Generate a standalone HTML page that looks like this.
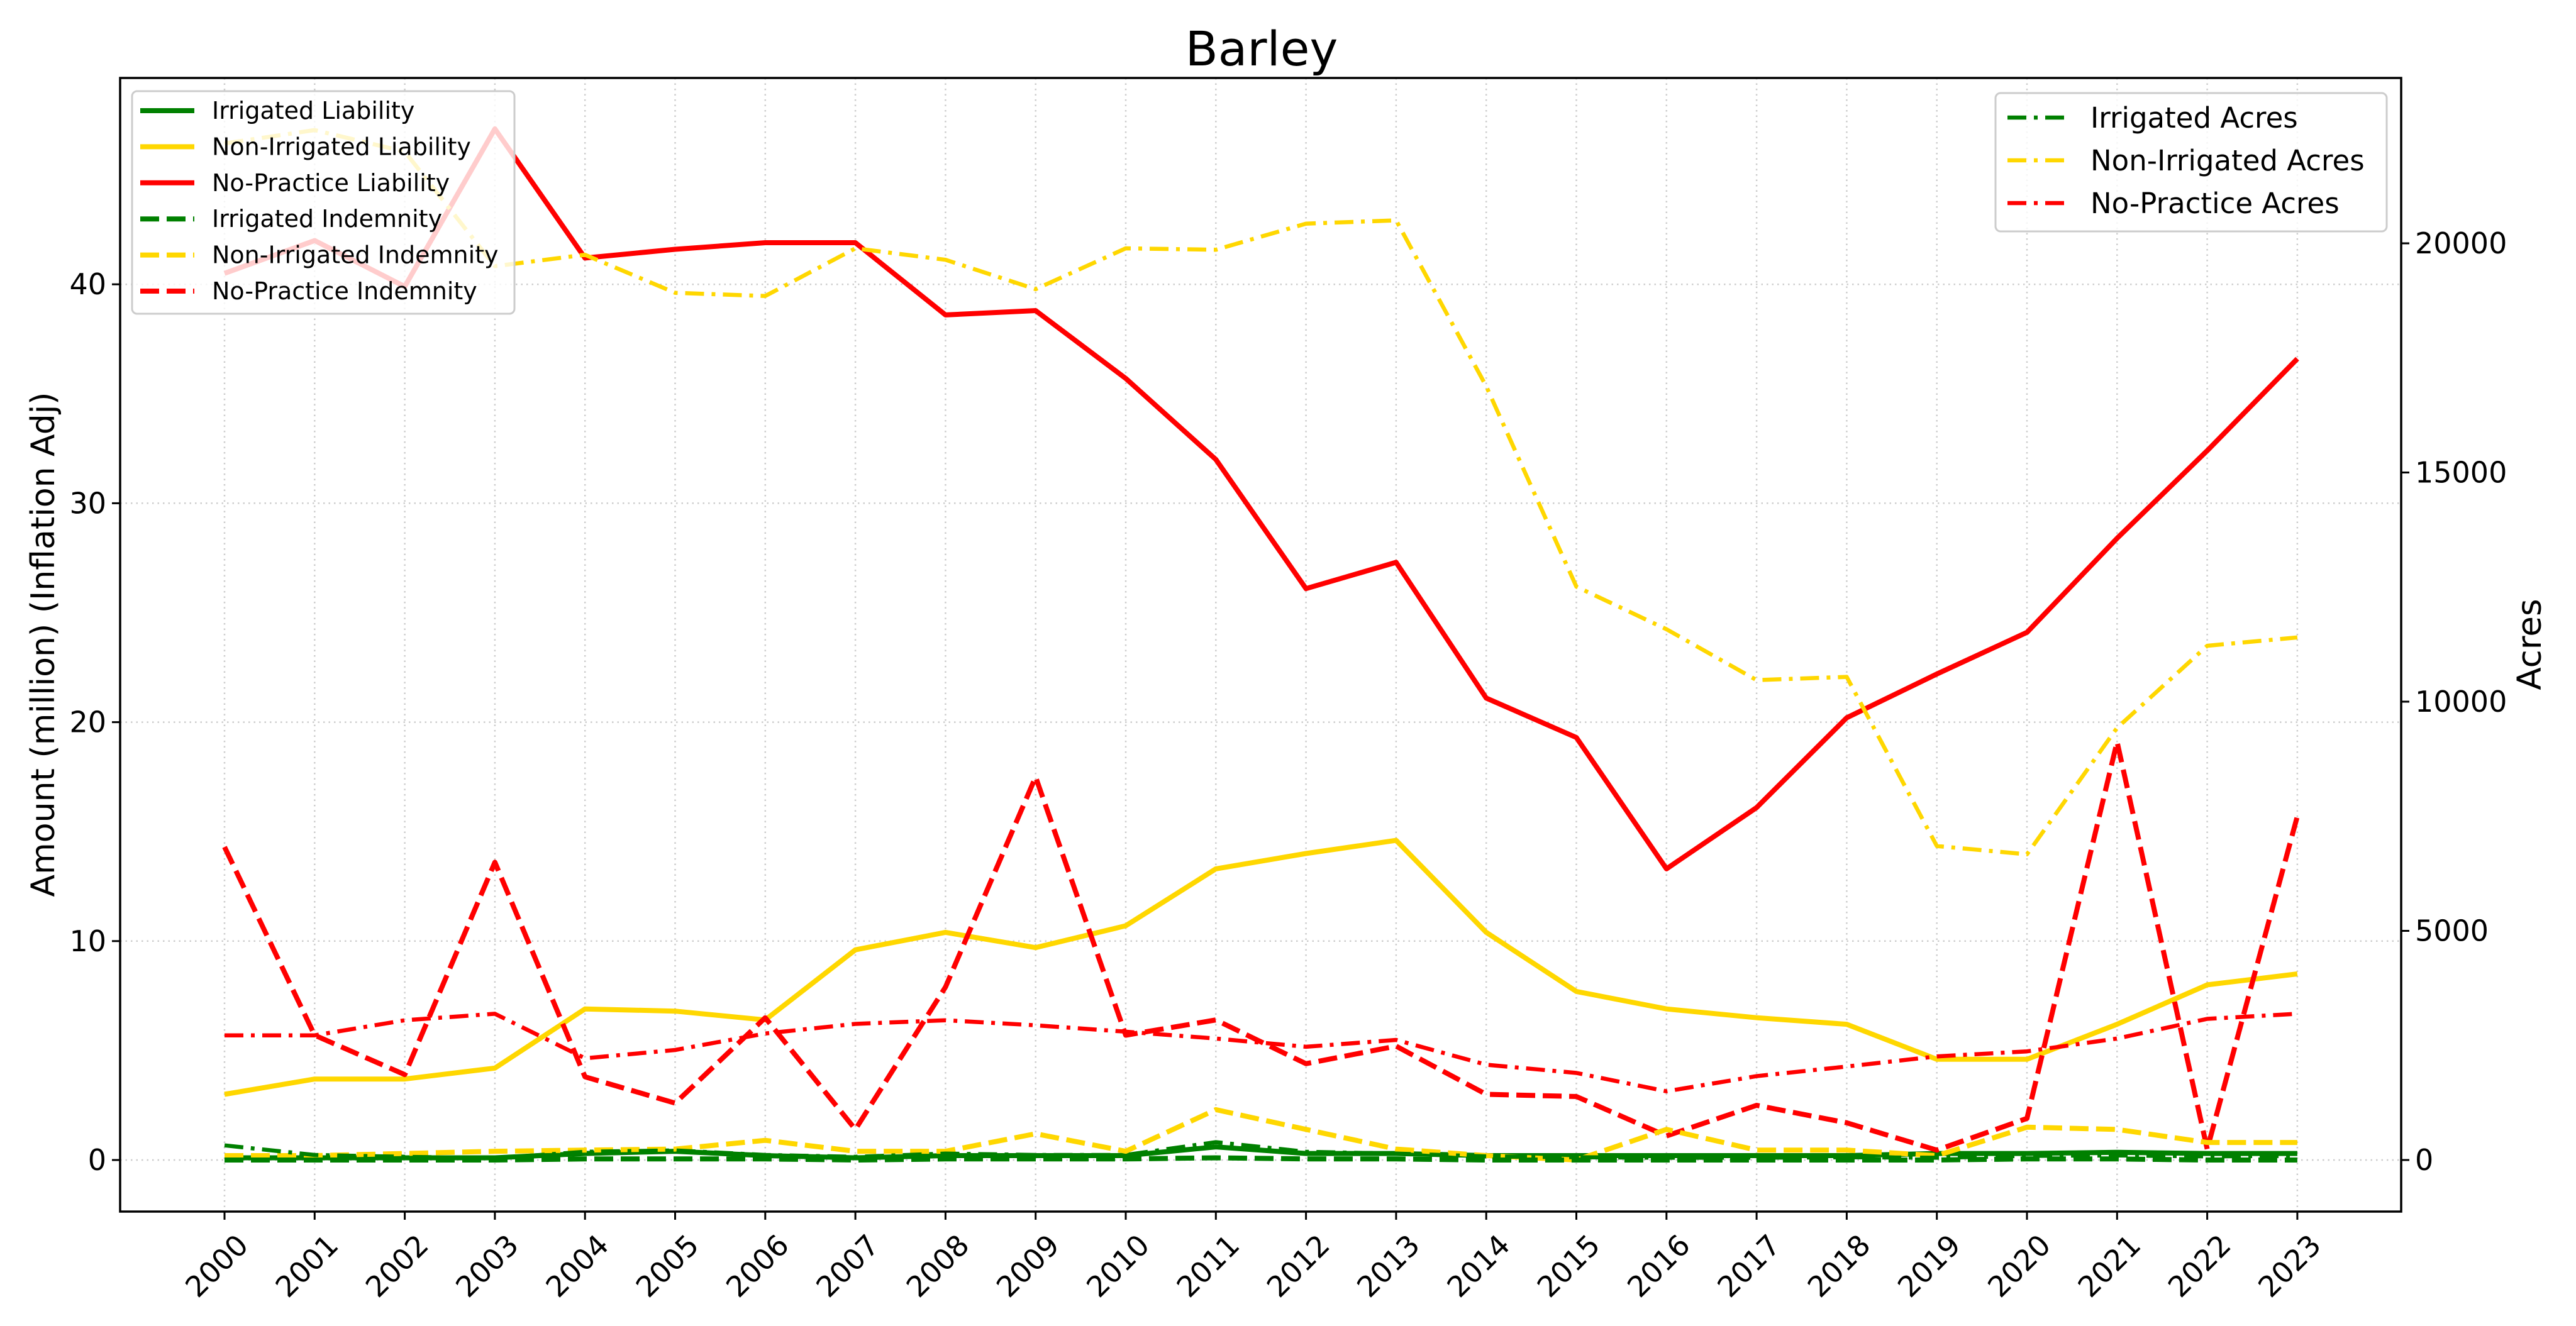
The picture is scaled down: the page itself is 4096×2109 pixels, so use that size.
<!DOCTYPE html>
<html><head><meta charset="utf-8"><style>
html,body{margin:0;padding:0;background:#fff;}
svg{display:block;font-family:"DejaVu Sans","Liberation Sans",sans-serif;}
</style></head><body>
<svg id="chart" width="4096" height="2109" viewBox="0 0 4096 2109" xmlns="http://www.w3.org/2000/svg">
<rect width="4096" height="2109" fill="#fff"/>
<text x="2006" y="104" font-size="76" text-anchor="middle">Barley</text>
<g id="grid"></g>
<g id="series"></g>
<rect x="191" y="124" width="3627" height="1803" fill="none" stroke="#000" stroke-width="3.5"/>
<g id="axes"></g>
<text transform="translate(86,1025) rotate(-90)" font-size="52" text-anchor="middle">Amount (million) (Inflation Adj)</text>
<text transform="translate(4040,1025) rotate(-90)" font-size="53" text-anchor="middle">Acres</text>
<g id="legends"></g>
</svg>
<script>
const years = [2000,2001,2002,2003,2004,2005,2006,2007,2008,2009,2010,2011,2012,2013,2014,2015,2016,2017,2018,2019,2020,2021,2022,2023];
const irrLiab = [0.1,0.1,0.1,0.1,0.3,0.4,0.2,0.1,0.2,0.2,0.2,0.6,0.3,0.3,0.2,0.2,0.2,0.2,0.2,0.3,0.3,0.35,0.3,0.3];
const nonIrrLiab = [3.0,3.7,3.7,4.2,6.9,6.8,6.4,9.6,10.4,9.7,10.7,13.3,14.0,14.6,10.4,7.7,6.9,6.5,6.2,4.6,4.6,6.2,8.0,8.5];
const noPracLiab = [40.5,42.0,39.9,47.1,41.2,41.6,41.9,41.9,38.6,38.8,35.7,32.0,26.1,27.3,21.1,19.3,13.3,16.1,20.2,22.2,24.1,28.4,32.4,36.6];
const irrIndem = [0.0,0.0,0.0,0.0,0.05,0.05,0.05,0.0,0.05,0.05,0.05,0.1,0.05,0.05,0.0,0.0,0.0,0.0,0.0,0.0,0.05,0.05,0.0,0.0];
const nonIrrIndem = [0.2,0.2,0.3,0.4,0.45,0.5,0.9,0.4,0.4,1.2,0.4,2.3,1.4,0.5,0.2,0.0,1.4,0.45,0.45,0.2,1.5,1.4,0.8,0.8];
const noPracIndem = [14.3,5.7,3.9,13.6,3.8,2.6,6.5,1.4,7.9,17.5,5.7,6.4,4.4,5.2,3.0,2.9,1.1,2.5,1.7,0.45,1.9,19.1,0.5,15.7];
const irrAcres = [320,110,70,40,180,210,110,70,140,110,110,390,180,140,80,60,50,50,60,50,90,100,80,90];
const nonIrrAcres = [22180,22470,22000,19500,19750,18920,18850,19890,19640,19000,19890,19860,20430,20500,16880,12510,11580,10470,10540,6850,6670,9430,11220,11400];
const noPracAcres = [2720,2720,3050,3190,2220,2400,2760,2970,3050,2940,2800,2650,2470,2620,2080,1900,1500,1830,2040,2260,2370,2650,3080,3190];
const leftTicks = [0,10,20,30,40];
const rightTicks = [0,5000,10000,15000,20000];

const NS="http://www.w3.org/2000/svg";
const X0=191,X1=3818,Y0=124,Y1=1927;
function xPos(i){return 357+i*143.3;}
function yL(v){return 1845 - v*34.82;}
function yR(v){return 1845 - v*0.0729;}
function mk(tag,attrs,parent){const e=document.createElementNS(NS,tag);for(const k in attrs)e.setAttribute(k,attrs[k]);parent.appendChild(e);return e;}
const grid=document.getElementById('grid'),axes=document.getElementById('axes'),ser=document.getElementById('series'),leg=document.getElementById('legends');

years.forEach((y,i)=>{
  const x=xPos(i);
  const g=mk('line',{x1:x,x2:x,y1:Y0,y2:Y1,stroke:'#cccccc','stroke-width':2.5,'stroke-dasharray':'2.5 6'},grid);
  
  
  const t=mk('line',{x1:x,x2:x,y1:Y1,y2:Y1+13,stroke:'#000','stroke-width':3},axes);
  
  
  const lb=mk('text',{transform:`translate(${x+16},${Y1+32}) rotate(-45)`,'font-size':46,'text-anchor':'end','dominant-baseline':'hanging'},axes);
  lb.textContent=y;
  
  
});
leftTicks.forEach(v=>{
  const y=yL(v);
  const g=mk('line',{x1:X0,x2:X1,y1:y,y2:y,stroke:'#cccccc','stroke-width':2.5,'stroke-dasharray':'2.5 6'},grid);
  
  
  const t=mk('line',{x1:X0-13,x2:X0,y1:y,y2:y,stroke:'#000','stroke-width':3},axes);
  
  
  const lb=mk('text',{x:X0-22,y:y+16,'font-size':46,'text-anchor':'end'},axes);
  lb.textContent=v;
  
  
});
rightTicks.forEach(v=>{
  const y=yR(v);
  const t=mk('line',{x1:X1,x2:X1+13,y1:y,y2:y,stroke:'#000','stroke-width':3},axes);
  
  
  const lb=mk('text',{x:X1+22,y:y+16,'font-size':46,'text-anchor':'start'},axes);
  lb.textContent=v;
  
  
});

const GREEN='#008000',GOLD='#FFD700',RED='#FF0000';
const SOLID='',DASH='30 12',DASHDOT='30 12 6 12';
function line(vals,scale,color,dash,name){
  const pts=vals.map((v,i)=>xPos(i).toFixed(1)+','+scale(v).toFixed(1)).join(' ');
  const p=mk('polyline',{points:pts,fill:'none',stroke:color,'stroke-width':dash===DASHDOT?6.5:8,'stroke-linejoin':'round'},ser);
  if(dash)p.setAttribute('stroke-dasharray',dash);
  
  
}
line(noPracLiab,yL,RED,SOLID,'no-practice-liability-line');
line(nonIrrLiab,yL,GOLD,SOLID,'non-irrigated-liability-line');
line(irrLiab,yL,GREEN,SOLID,'irrigated-liability-line');
line(noPracIndem,yL,RED,DASH,'no-practice-indemnity-line');
line(nonIrrIndem,yL,GOLD,DASH,'non-irrigated-indemnity-line');
line(irrIndem,yL,GREEN,DASH,'irrigated-indemnity-line');
line(nonIrrAcres,yR,GOLD,DASHDOT,'non-irrigated-acres-line');
line(noPracAcres,yR,RED,DASHDOT,'no-practice-acres-line');
line(irrAcres,yR,GREEN,DASHDOT,'irrigated-acres-line');

// left legend
const lb1=mk('rect',{x:210,y:145,width:608,height:354,rx:8,fill:'#fff','fill-opacity':0.8,stroke:'#cccccc','stroke-width':3},leg);


const leftEntries=[['Irrigated Liability',GREEN,SOLID],['Non-Irrigated Liability',GOLD,SOLID],['No-Practice Liability',RED,SOLID],['Irrigated Indemnity',GREEN,DASH],['Non-Irrigated Indemnity',GOLD,DASH],['No-Practice Indemnity',RED,DASH]];
leftEntries.forEach((e,i)=>{
  const y=176+i*57.4;
  const l=mk('line',{x1:223,x2:309,y1:y,y2:y,stroke:e[1],'stroke-width':8},leg);
  if(e[2])l.setAttribute('stroke-dasharray','30 12');
  
  
  const t=mk('text',{x:337,y:y+13,'font-size':38,textLength:0},leg);
  t.removeAttribute('textLength');
  t.textContent=e[0];
  
  
});
// right legend
const lb2=mk('rect',{x:3173,y:148,width:622,height:220,rx:8,fill:'#fff','fill-opacity':0.8,stroke:'#cccccc','stroke-width':3},leg);


const rightEntries=[['Irrigated Acres',GREEN],['Non-Irrigated Acres',GOLD],['No-Practice Acres',RED]];
rightEntries.forEach((e,i)=>{
  const y=187+i*68;
  const l=mk('line',{x1:3192,x2:3286,y1:y,y2:y,stroke:e[1],'stroke-width':6.5,'stroke-dasharray':'30 12 6 12'},leg);
  
  
  const t=mk('text',{x:3324,y:y+16,'font-size':45},leg);
  t.textContent=e[0];
  
  
});
</script>
</body></html>
